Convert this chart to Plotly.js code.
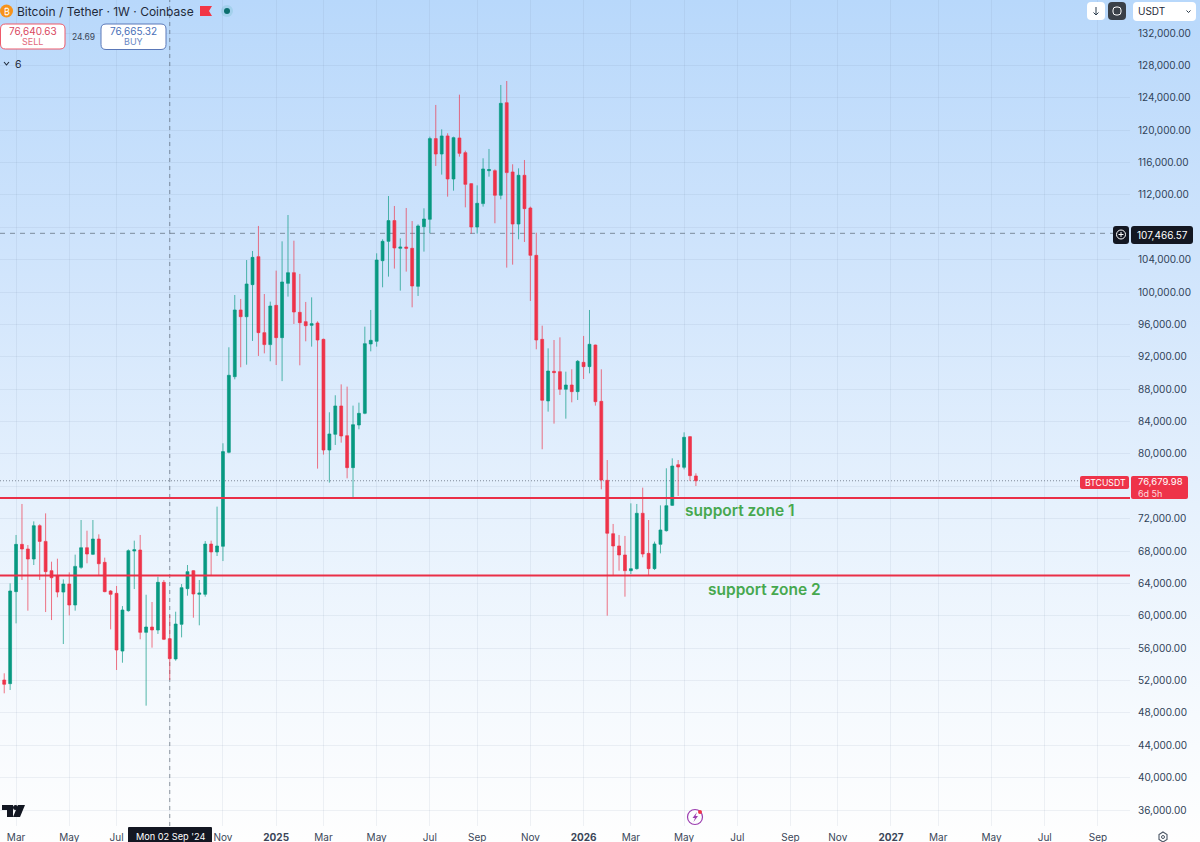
<!DOCTYPE html>
<html>
<head>
<meta charset="utf-8">
<script src="https://cdn.plot.ly/plotly-3.0.1.min.js"></script>
<style>
html,body{margin:0;padding:0;width:1200px;height:842px;overflow:hidden;background:linear-gradient(180deg,#b8d8fb 0%,#cfe4fc 30%,#e6f1fd 60%,#f6fafe 85%,#fefefe 100%);}
#chart{width:1200px;height:842px;}
</style>
</head>
<body>
<div id="chart"></div>
<script>
var firstWeek = '2024-02-19';
var open = [52060,51610,62980,68820,68250,67010,71130,69190,65570,64950,62930,63920,61330,65980,68410,67590,69480,66600,63060,62770,55640,60630,68000,68120,57950,58610,58240,64130,57170,54660,58940,63350,65570,62650,62650,68860,67880,68580,80190,89540,97780,96950,100910,104370,94980,93500,98350,94360,101070,102390,97490,96340,95880,96170,94150,80480,82420,85920,82250,78300,83570,85010,93580,93910,103870,106260,108820,105400,105560,105400,100700,108070,108980,118950,117050,119280,113960,119030,117220,113390,108030,110920,114990,114990,111950,123390,114830,108400,114420,110380,104530,94150,86540,90200,90160,87980,88510,87690,91310,90780,93450,86490,76730,70140,68620,67510,65570,65820,72660,67710,65820,68830,70510,73640,78670,78340,82130,77270];
var high = [52890,64000,69980,73810,68740,71660,71300,72650,66680,67050,64500,65360,67550,71830,70510,71830,70060,67180,63180,63680,61200,68200,69280,69980,62600,61700,64830,64420,60090,60500,63920,66270,65650,64420,69230,69280,73480,81310,93170,99630,99140,103950,105070,108160,99750,98810,102640,106260,109510,106340,102230,98770,99340,96380,94240,85140,87240,88590,88310,85960,86330,95720,97780,104780,106510,111860,110630,106630,110380,108770,108360,110340,119190,123110,120100,119610,119190,124380,117460,113430,113180,116520,117670,115160,125580,126070,115780,115280,116310,110550,107330,95840,93040,94070,94400,90160,90450,91600,94570,97780,93500,90450,79240,71340,69980,69860,73890,73810,75830,71830,69160,73640,78220,79450,79240,82660,82210,77600];
var low = [50420,50830,59060,64420,60630,66270,64420,60460,59470,62280,56510,60050,60630,65800,66480,67500,64950,62900,58320,53300,54200,60500,63300,57090,48890,56060,57750,57000,52060,54450,57330,62480,59760,58820,62360,65030,67380,66760,80070,89210,90700,91020,93950,92100,92420,91440,90980,88990,99430,96050,90940,93910,93250,78180,79910,76450,81100,81390,76980,74590,83040,84900,92670,93250,100580,101900,102890,100170,102520,98110,99510,104990,107250,115570,114500,111780,112520,116720,110460,107210,107210,110550,114250,108490,111450,103010,103380,106510,106180,98890,92920,80570,85220,83740,87280,84350,86370,86660,89250,89950,85960,75620,60010,65040,65570,62360,65160,65700,67220,65040,65660,67710,70400,73560,74800,78090,76650,76030];
var close = [51530,63060,68820,68250,67010,71130,69190,65450,64700,62930,63920,61330,66100,68410,67630,69480,66430,62980,62650,55770,60710,68040,68160,57950,58610,58240,64130,57090,54700,58980,63470,65450,62690,62810,68860,67880,68620,80280,89710,97780,96950,100990,104280,94980,93500,98270,94360,101240,102390,97530,96210,95840,96090,94070,80480,82460,85920,82210,78300,83610,85010,93620,94030,103950,106260,108820,105440,105560,105400,100740,108160,109020,118950,117050,119280,113960,119070,117130,113300,108030,110960,115200,115120,111950,123310,114750,108400,114420,110300,104530,94070,86620,90240,90040,87980,88510,87690,91440,90780,93540,86450,76770,70190,68620,67510,65570,65820,72660,67630,65820,68870,70600,73600,78500,78380,82050,77310,76680];
var xTickDates = ['2024-03-04','2024-05-06','2024-07-01','2024-09-02','2024-11-04','2025-01-06','2025-03-03','2025-05-05','2025-07-07','2025-09-01','2025-11-03','2026-01-05','2026-03-02','2026-05-04','2026-07-06','2026-09-07','2026-11-02','2027-01-04','2027-03-01','2027-05-03','2027-07-05','2027-09-06'];
var xTickLabels = ['Mar','May','Jul','','Nov','<b>2025</b>','Mar','May','Jul','Sep','Nov','<b>2026</b>','Mar','May','Jul','Sep','Nov','<b>2027</b>','Mar','May','Jul','Sep'];
var yTickValues = [36000,40000,44000,48000,52000,56000,60000,64000,68000,72000,76000,80000,84000,88000,92000,96000,100000,104000,108000,112000,116000,120000,124000,128000,132000];
var hiddenYTicks = [76000,108000];
var supportZone1 = 74550, supportZone2 = 64975;
var crosshairLevel = 107250, lastPrice = 76679.98, crosshairDate = '2024-09-02';

var dates = open.map(function(_, i){
  var d = new Date(Date.parse(firstWeek + 'T00:00:00Z') + i * 7 * 86400000);
  return d.toISOString().slice(0,10);
});

var UP = '#089981', DOWN = '#ee3349', INK = '#1f2a3a';
var FONT = 'Inter, "Liberation Sans", sans-serif';
var PW = 1130, PH = 826;
function X(p){ return p / PW; }
function Y(p){ return 1 - p / PH; }
function rr(x0,y0,x1,y1,r){
  var a=X(x0),b=X(x1),c=Y(y0),d=Y(y1),rx=r/PW,ry=r/PH;
  return 'M'+(a+rx)+','+c+' L'+(b-rx)+','+c+' Q'+b+','+c+' '+b+','+(c-ry)+' L'+b+','+(d+ry)+' Q'+b+','+d+' '+(b-rx)+','+d+' L'+(a+rx)+','+d+' Q'+a+','+d+' '+a+','+(d+ry)+' L'+a+','+(c-ry)+' Q'+a+','+c+' '+(a+rx)+','+c+' Z';
}
function poly(pts, closed){
  return pts.map(function(p,i){ return (i?'L':'M')+X(p[0])+','+Y(p[1]); }).join(' ') + (closed?' Z':'');
}
function pshape(path, fill, line, lw){
  return {type:'path',xref:'paper',yref:'paper',path:path,fillcolor:fill||'rgba(0,0,0,0)',line:{color:line||'rgba(0,0,0,0)',width:lw||0},layer:'above'};
}
function circle(cx,cy,r,fill,line,lw){
  return {type:'circle',xref:'paper',yref:'paper',x0:X(cx-r),x1:X(cx+r),y0:Y(cy+r),y1:Y(cy-r),fillcolor:fill||'rgba(0,0,0,0)',line:{color:line||'rgba(0,0,0,0)',width:lw||0},layer:'above'};
}
function note(text,px,py,size,color,anchor,extra){
  var n = {text:text,xref:'paper',yref:'paper',x:X(px),y:Y(py),xanchor:anchor||'center',yanchor:'middle',showarrow:false,align:'center',font:{family:FONT,size:size,color:color},borderpad:0};
  for (var k in extra) n[k]=extra[k];
  return n;
}

var trace = {
  type:'candlestick', x:dates, open:open, high:high, low:low, close:close,
  whiskerwidth:0, hoverinfo:'skip',
  increasing:{line:{color:'rgba(8,153,129,0.68)',width:1},fillcolor:UP},
  decreasing:{line:{color:'rgba(238,51,73,0.68)',width:1},fillcolor:DOWN}
};

var shapes = [
  {type:'line',xref:'x',yref:'paper',x0:crosshairDate,x1:crosshairDate,y0:0,y1:1,line:{color:'rgba(70,80,95,0.6)',width:1,dash:'4px,4px'},layer:'below'},
  {type:'line',xref:'paper',yref:'y',x0:0,x1:1,y0:crosshairLevel,y1:crosshairLevel,line:{color:'rgba(70,80,95,0.6)',width:1,dash:'5px,5px'},layer:'below'},
  {type:'line',xref:'paper',yref:'y',x0:0,x1:1,y0:lastPrice,y1:lastPrice,line:{color:'rgba(60,70,85,0.6)',width:1,dash:'1px,2px'},layer:'below'},
  {type:'line',xref:'paper',yref:'y',x0:0,x1:1,y0:supportZone1,y1:supportZone1,line:{color:'#ea2f47',width:1.8},layer:'above'},
  {type:'line',xref:'paper',yref:'y',x0:0,x1:1,y0:supportZone2,y1:supportZone2,line:{color:'#ea2f47',width:1.8},layer:'above'},
  // header
  circle(6.5,11,6.5,'#f7931a'),
  pshape(poly([[200,6],[212,6],[209,11],[212,16],[200,16]],true),'#f23645'),
  circle(227,11,6,'rgba(8,153,129,0.12)'),
  circle(227,11,3,'#0b6e6e'),
  pshape(rr(0.5,24,65,49,5),'#ffffff','#ee5a6a',1),
  pshape(rr(101,24,166,49.5,5),'#ffffff','#5a78b8',1),
  pshape(poly([[4,62],[6.5,65],[9,62]]),null,'#1f2a3a',1.1),
  // top right controls
  pshape(rr(1087,2,1105,20,4),'#ffffff'),
  pshape(rr(1108,2,1126,20,4),'#3a4048'),
  pshape(rr(1113,7,1121,15,3),null,'#ffffff',1),
  pshape(rr(1133,2,1196,21,4),'#ffffff'),
  pshape(poly([[1096,7],[1096,15]]),null,'#2a3a4a',1),
  pshape(poly([[1093.5,12.5],[1096,15],[1098.5,12.5]]),null,'#2a3a4a',1),
  pshape(poly([[1186.5,10.5],[1188.5,12.5],[1190.5,10.5]]),null,'#2a3a4a',1),
  // crosshair price tag
  pshape(rr(1113,226,1129,244,3),'#131722'),
  circle(1121,234.5,4.5,null,'#ffffff',1),
  pshape(poly([[1118.5,234.5],[1123.5,234.5]]),null,'#ffffff',1),
  pshape(poly([[1121,232],[1121,237]]),null,'#ffffff',1),
  pshape(rr(1131,226,1193,244,3),'#131722'),
  // last price tag
  pshape(rr(1080,476,1129,489,2),'#ee3349'),
  pshape(rr(1131,476,1188,499,2),'#ee3349'),
  // crosshair date tag
  pshape(rr(128,827,212,846,1),'#131722'),
  // TradingView logo
  pshape(poly([[2,805],[13,805],[13,817],[7,817],[7,810],[2,810]],true),'#131722'),
  circle(15.5,807.5,2.5,'#131722'),
  pshape(poly([[18,805],[25,805],[20,817],[13,817]],true),'#131722'),
  // lightning badge
  circle(695,817,7.5,null,'#9c3fb0',1.2),
  pshape(poly([[697,812],[692.5,818],[695,818],[693.5,822],[698,816],[695.5,816]],true),'#9c3fb0'),
  circle(700,812,2,'#ee3349'),
  // gear
  pshape(poly([[1163,832],[1167,834.5],[1167,839.5],[1163,842],[1159,839.5],[1159,834.5]],true),null,'#4a5564',1.1),
  circle(1163,837,1.5,null,'#4a5564',1)
];

var annotations = [
  note('support zone 1',740,510.5,15.5,'#46a84f','center',{font:{family:FONT,size:15.5,color:'#46a84f',weight:600}}),
  note('support zone 2',764.5,589,15.5,'#46a84f','center',{font:{family:FONT,size:15.5,color:'#46a84f',weight:600}}),
  note('₿',6.5,11,9,'#ffffff'),
  note('Bitcoin / Tether · 1W · Coinbase',16,11,12,INK,'left'),
  note('76,640.63',32.5,31,10,'#d9485f'),
  note('SELL',32.5,42,9,'#e2697c'),
  note('24.69',83,37,8.5,'#3a4658'),
  note('76,665.32',133.5,31,10,'#4a70b8'),
  note('BUY',133.5,42,9,'#6a88c4'),
  note('6',18,64,10.5,INK),
  note('USDT',1137,11.5,10,'#1f2a3a','left'),
  note('107,466.57',1162.5,235,10,'#ffffff'),
  note('BTCUSDT',1105,482.5,8.7,'#ffffff'),
  note('76,679.98',1160,481.5,9.5,'#ffffff'),
  note('6d 5h',1137,493,9,'#ffd9dd','left'),
  note("Mon 02 Sep '24",170,836.5,9.2,'#ffffff')
];

var layout = {
  width:1200, height:842, margin:{l:0,r:70,t:0,b:16},
  paper_bgcolor:'rgba(0,0,0,0)', plot_bgcolor:'rgba(0,0,0,0)',
  showlegend:false, dragmode:false, hovermode:false,
  font:{family:FONT,size:10,color:'#2a3a4e'},
  xaxis:{type:'date',range:['2024-02-14','2027-10-14'],rangeslider:{visible:false},
    tickmode:'array',tickvals:xTickDates,ticktext:xTickLabels,tickangle:0,
    showgrid:true,gridcolor:'rgba(110,130,160,0.10)',gridwidth:1,
    zeroline:false,showline:false,ticks:'outside',ticklen:2,tickcolor:'rgba(0,0,0,0)',
    tickfont:{family:FONT,size:10,color:'#3a4658'},automargin:false},
  yaxis:{side:'right',range:[34025,136077],
    tickmode:'array',tickvals:yTickValues,
    ticktext:yTickValues.map(function(v){
      return hiddenYTicks.indexOf(v)>=0 ? '' : v.toLocaleString('en-US',{minimumFractionDigits:2,maximumFractionDigits:2});
    }),
    showgrid:true,gridcolor:'rgba(110,130,160,0.10)',gridwidth:1,
    zeroline:false,showline:false,ticks:'outside',ticklen:5,tickcolor:'rgba(0,0,0,0)',
    tickfont:{family:FONT,size:10,color:'#2f4258'},automargin:false},
  shapes:shapes, annotations:annotations
};
Plotly.newPlot('chart',[trace],layout,{staticPlot:true,displayModeBar:false,responsive:false});
</script>
</body>
</html>
